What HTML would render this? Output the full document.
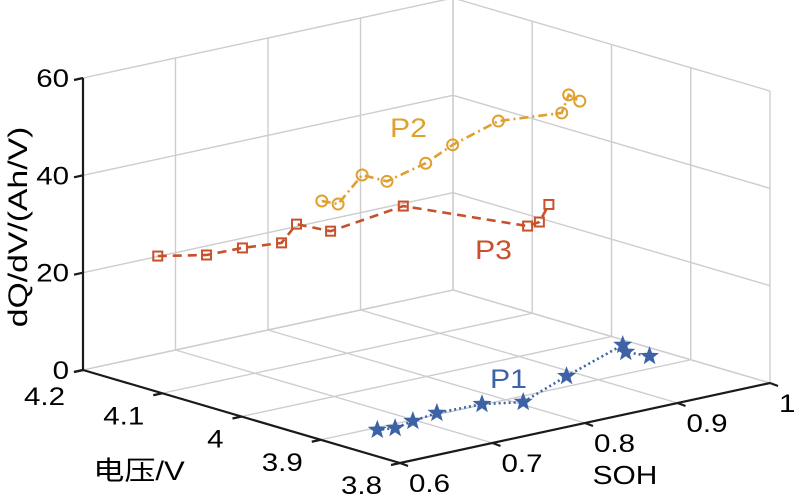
<!DOCTYPE html>
<html><head><meta charset="utf-8">
<style>
html,body{margin:0;padding:0;background:#fff;}
svg{display:block;font-family:"Liberation Sans","Noto Sans CJK SC",sans-serif;}
</style></head>
<body>
<svg id="chart" width="795" height="494" viewBox="0 0 795 494">
<g id="grid"></g>
<g id="axes"></g>
<g id="series"></g>
<text transform="translate(390,137) scale(1.12,1)" font-size="27" fill="#e0a030">P2</text>
<text transform="translate(475,259) scale(1.12,1)" font-size="27" fill="#c8502a">P3</text>
<text transform="translate(490,388) scale(1.12,1)" font-size="27" fill="#3d63a6">P1</text>
<text transform="translate(139,480) scale(1.15,1)" font-size="27" text-anchor="middle">电压/V</text>
<text transform="translate(625,484) scale(1.15,1)" font-size="26" text-anchor="middle">SOH</text>
<text transform="translate(27,227) rotate(-90) scale(1.25,1)" font-size="27" text-anchor="middle">dQ/dV/(Ah/V)</text>
</svg>
<script>
const sohTicks = [0.6, 0.7, 0.8, 0.9, 1.0];
const sohTickLabels = ["0.6", "0.7", "0.8", "0.9", "1"];
const voltTicks = [3.8, 3.9, 4.0, 4.1, 4.2];
const voltTickLabels = ["3.8", "3.9", "4", "4.1", "4.2"];
const zTicks = [0, 20, 40, 60];
const zTickLabels = ["0", "20", "40", "60"];

const p1Soh = [0.656, 0.671, 0.697, 0.729, 0.776, 0.806, 0.888, 0.989, 0.976, 0.982];
const p1Volt = [3.894, 3.889, 3.897, 3.904, 3.902, 3.885, 3.926, 3.973, 3.954, 3.931];
const p1Val = [0, 0, 0, 0, 0, 0, 0, 0, 0, 0];

const p2Soh = [0.656, 0.671, 0.697, 0.729, 0.776, 0.806, 0.888, 0.989, 0.976, 0.982];
const p2Volt = [3.964, 3.961, 3.961, 3.967, 3.973, 3.974, 4.012, 4.050, 4.026, 4.019];
const p2Val = [43.7, 42.6, 47.5, 44.6, 46.1, 48.6, 48.3, 44.0, 49.4, 48.2];

const p3Soh = [0.656, 0.671, 0.697, 0.729, 0.776, 0.806, 0.888, 0.989, 0.976, 0.982];
const p3Volt = [4.171, 4.127, 4.112, 4.100, 4.136, 4.128, 4.132, 4.093, 4.063, 4.058];
const p3Val = [22.5, 24.2, 25.3, 25.6, 25.8, 23.5, 25.1, 18.7, 21.5, 25.1];

const NS = "http://www.w3.org/2000/svg";
const O = [400, 463];
function proj(v, s, z) {
  const a = (s - 0.6) / 0.4, b = (v - 3.8) / 0.4;
  return [O[0] + 370 * a - 317 * b, O[1] - 80 * a - 93 * b - z / 60 * 292];
}
function mk(tag, attrs, parent) {
  const e = document.createElementNS(NS, tag);
  for (const k in attrs) e.setAttribute(k, attrs[k]);
  parent.appendChild(e);
  return e;
}
function line(p, q, st, parent) {
  return mk("line", Object.assign({x1: p[0], y1: p[1], x2: q[0], y2: q[1]}, st), parent);
}
function label(x, y, txt, anchor, parent) {
  return mk("text", {transform: "translate(" + x + "," + y + ") scale(1.18,1)", "font-size": 25, "text-anchor": anchor}, parent);
}
const grid = document.getElementById("grid");
const axes = document.getElementById("axes");
const series = document.getElementById("series");
const gst = {stroke: "#cdcdcd", "stroke-width": 1.4};

sohTicks.forEach(s => {
  const l = line(proj(4.2, s, 0), proj(4.2, s, 60), gst, grid);
  
  
});
zTicks.forEach(z => {
  const l = line(proj(4.2, 0.6, z), proj(4.2, 1.0, z), gst, grid);
  
  
  const l2 = line(proj(4.2, 1.0, z), proj(3.8, 1.0, z), gst, grid);
  
  
});
voltTicks.forEach(v => {
  const l = line(proj(v, 1.0, 0), proj(v, 1.0, 60), gst, grid);
  
  
  const f = line(proj(v, 0.6, 0), proj(v, 1.0, 0), gst, grid);
  
  
});
sohTicks.forEach(s => {
  const f = line(proj(3.8, s, 0), proj(4.2, s, 0), gst, grid);
  
  
});

const ast = {stroke: "#1a1a1a", "stroke-width": 2.2};
let ax = line(proj(4.2, 0.6, 0), proj(4.2, 0.6, 60), ast, axes);


ax = line(proj(3.8, 0.6, 0), proj(4.2, 0.6, 0), ast, axes);


ax = line(proj(3.8, 0.6, 0), proj(3.8, 1.0, 0), ast, axes);



zTicks.forEach((z, i) => {
  const p = proj(4.2, 0.6, z);
  const t = line(p, [p[0] - 9, p[1] + 2], ast, axes);
  
  
  const tx = label(p[0] - 14, p[1] + 9, "", "end", axes);
  tx.textContent = zTickLabels[i];
  
  
});
voltTicks.forEach((v, i) => {
  const p = proj(v, 0.6, 0);
  const t = line(p, [p[0] - 9, p[1] + 2], ast, axes);
  
  
  const tx = label(p[0] - 18, p[1] + 31 + (i === 4 ? 4 : 0), "", "end", axes);
  tx.textContent = voltTickLabels[i];
  
  
});
sohTicks.forEach((s, i) => {
  const p = proj(3.8, s, 0);
  const t = line(p, [p[0] + 8, p[1] + 3], ast, axes);
  
  
  const tx = label(p[0] + 9, p[1] + 29, "", "start", axes);
  tx.textContent = sohTickLabels[i];
  
  
});

function drawSeries(name, S, V, Z, color, dash, marker) {
  const pts = S.map((s, i) => proj(V[i], s, Z[i]));
  const pl = mk("polyline", {points: pts.map(p => p.join(",")).join(" "), fill: "none", stroke: color, "stroke-width": 2.6, "stroke-dasharray": dash}, series);
  
  
  pts.forEach(p => {
    let m;
    if (marker === "star") {
      const r1 = 10, r2 = 4.2; let d = "";
      for (let k = 0; k < 10; k++) {
        const r = k % 2 ? r2 : r1, ang = -Math.PI / 2 + k * Math.PI / 5;
        d += (k ? "L" : "M") + (p[0] + r * Math.cos(ang)).toFixed(1) + "," + (p[1] + r * Math.sin(ang)).toFixed(1);
      }
      m = mk("path", {d: d + "Z", fill: color}, series);
    } else if (marker === "circle") {
      m = mk("circle", {cx: p[0], cy: p[1], r: 5.5, fill: "none", stroke: color, "stroke-width": 2}, series);
    } else {
      m = mk("rect", {x: p[0] - 4.5, y: p[1] - 4.5, width: 9, height: 9, fill: "none", stroke: color, "stroke-width": 2}, series);
    }
    
    
  });
}
drawSeries("p3", p3Soh, p3Volt, p3Val, "#c8502a", "9,6", "square");
drawSeries("p2", p2Soh, p2Volt, p2Val, "#e0a030", "9,4,2,4", "circle");
drawSeries("p1", p1Soh, p1Volt, p1Val, "#3d63a6", "2,3", "star");
</script>
</body></html>
